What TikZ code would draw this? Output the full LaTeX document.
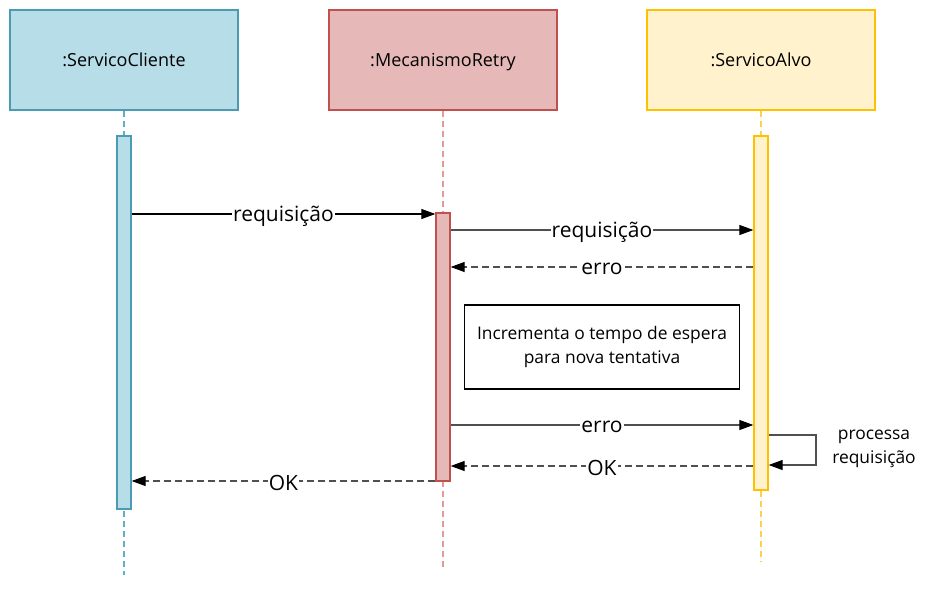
\documentclass[tikz,border=0pt]{standalone}
\usepackage{fontspec}
\setmainfont{Open Sans}
\usetikzlibrary{arrows.meta}
\definecolor{cFill}{HTML}{B7DEE8}
\definecolor{cLine}{HTML}{4A9BB4}
\definecolor{cLife}{HTML}{5EB0C6}
\definecolor{rFill}{HTML}{E6B9B8}
\definecolor{rLine}{HTML}{C0504D}
\definecolor{rLife}{HTML}{E09A98}
\definecolor{aFill}{HTML}{FFF2CC}
\definecolor{aLine}{HTML}{FFC000}
\definecolor{aLife}{HTML}{FFD04D}
\definecolor{lineGray}{HTML}{505050}
\begin{document}
\begin{tikzpicture}[x=1pt,y=-1pt,
  hdr/.style={draw, line width=1.3pt, minimum width=228pt, minimum height=100pt, inner sep=0pt,
    text height=12pt, text depth=0pt, font=\fontsize{18}{20}\selectfont},
  actbox/.style={draw, line width=1.3pt, minimum width=14pt, inner sep=0pt},
  life/.style={line width=1.1pt, dash pattern=on 6pt off 4pt},
  msg/.style={line width=1.1pt, draw=lineGray, -{Triangle[length=14pt,width=10pt,color=black]}},
  reply/.style={msg, dash pattern=on 7pt off 4pt},
  lbl/.style={fill=white, inner sep=1pt, yshift=-2pt, font=\fontsize{21}{22}\selectfont},
  small/.style={font=\fontsize{17.4}{24}\selectfont, align=center}
]
\useasboundingbox (0,0) rectangle (934,589);

% headers
\node[hdr, fill=cFill, draw=cLine] (hC) at (124,60) {:ServicoCliente};
\node[hdr, fill=rFill, draw=rLine] (hR) at (443,60) {:MecanismoRetry};
\node[hdr, fill=aFill, draw=aLine] (hA) at (761,60) {:ServicoAlvo};

% lifeline ends
\coordinate (eC) at (124,575);
\coordinate (eR) at (443,568);
\coordinate (eA) at (761,562);
\draw[life, draw=cLife] (hC.south) -- (eC);
\draw[life, draw=rLife] (hR.south) -- (eR);
\draw[life, draw=aLife] (hA.south) -- (eA);

% activation boxes
\node[actbox, fill=cFill, draw=cLine, minimum height=373pt] (aC) at (124,322.5) {};
\node[actbox, fill=rFill, draw=rLine, minimum height=268pt] (aR) at (443,347) {};
\node[actbox, fill=aFill, draw=aLine, minimum height=354pt] (aA) at (761,313) {};

% messages
\draw[msg, draw=black] (aC.east |- 0,214) -- node[lbl]{requisição} (aR.west |- 0,214);
\draw[msg] (aR.east |- 0,230) -- node[lbl]{requisição} (aA.west |- 0,230);
\draw[reply] (aA.west |- 0,267) -- node[lbl]{erro} (aR.east |- 0,267);

% note
\node[draw, line width=1.3pt, minimum width=275pt, minimum height=84pt, small] (note) at (602,347)
  {Incrementa o tempo de espera\\para nova tentativa};

\draw[msg] (aR.east |- 0,425) -- node[lbl]{erro} (aA.west |- 0,425);

% self call
\coordinate (sc) at (816,435);
\draw[msg] (aA.east |- 0,435) -- (sc) |- (aA.east |- 0,465);
\node[small] (scl) at (874,449) {processa\\requisição};

\draw[reply] (aA.west |- 0,466) -- node[lbl]{OK} (aR.east |- 0,466);
\draw[reply] (aR.west |- 0,481) -- node[lbl]{OK} (aC.east |- 0,481);
\end{tikzpicture}
\end{document}
